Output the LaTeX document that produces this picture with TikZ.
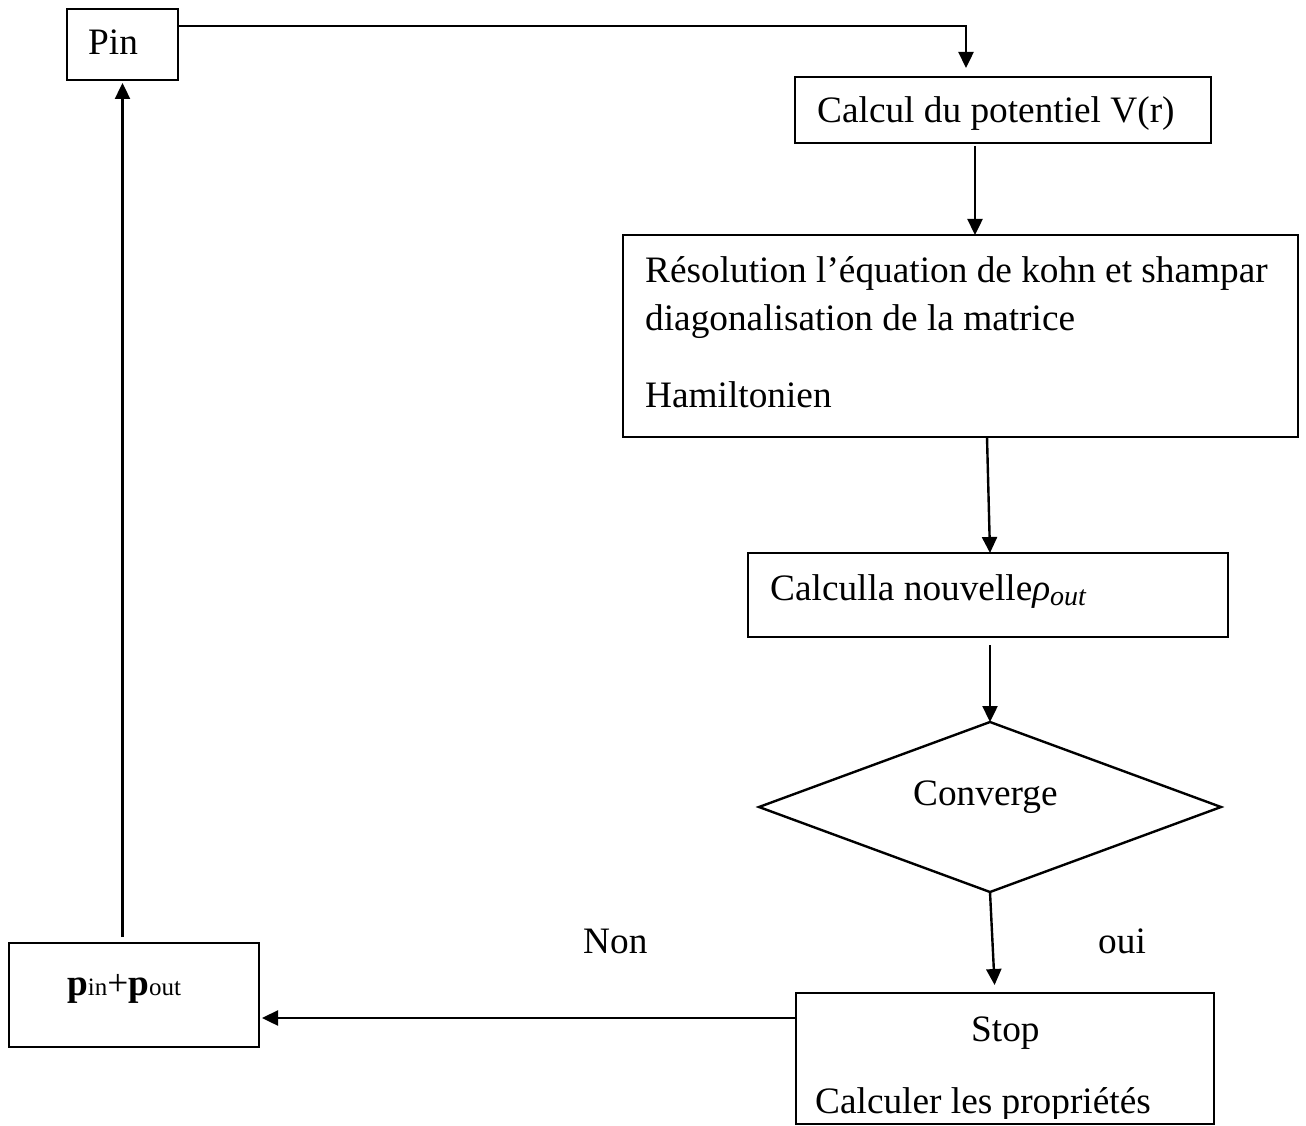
\documentclass[tikz,border=0pt]{standalone}
\usepackage{fontspec}
\setmainfont{Liberation Serif}
\usetikzlibrary{arrows.meta,shapes.geometric}
\newcommand{\bigtxt}{\fontsize{37.3}{44}\selectfont}
\newcommand{\smalltxt}{\fontsize{25}{30}\selectfont}
\begin{document}
\begin{tikzpicture}[x=1pt,y=-1pt,
  box/.style={draw, line width=2.4pt, rectangle, inner sep=0pt, outer sep=0pt},
  decide/.style={draw, line width=2.4pt, diamond, inner sep=0pt, outer sep=0pt},
  lbl/.style={font=\bigtxt, inner sep=0pt, anchor=base west},
  arr/.style={line width=2.4pt, -{Triangle[length=16pt,width=15pt]}}]
\useasboundingbox (0,0) rectangle (1306,1126);
% boxes
\node[box, minimum width=111pt, minimum height=71pt] (pin) at (122.5,44.5) {};
\node[box, minimum width=416pt, minimum height=66pt] (calc) at (1003,110) {};
\node[box, minimum width=675pt, minimum height=202pt] (res) at (960.5,336) {};
\node[box, minimum width=480pt, minimum height=84pt] (rho) at (988,595) {};
\node[decide, minimum width=462pt, minimum height=170pt] (dia) at (990,807) {};
\node[box, minimum width=418pt, minimum height=131pt] (stop) at (1005,1058.5) {};
\node[box, minimum width=250pt, minimum height=104pt] (pbox) at (134,995) {};
% texts
\node[lbl] (tpin) at (88,55) {Pin};
\node[lbl] (tcalc) at (817,123) {Calcul du potentiel V(r)};
\node[lbl] (tres1) at (645,282) {Résolution l’équation de kohn et shampar};
\node[lbl] (tres2) at (645,330) {diagonalisation de la matrice};
\node[lbl] (tres3) at (645,407) {Hamiltonien};
\node[lbl] (trho) at (770,600) {Calculla nouvelle\textit{ρ}\raisebox{-5pt}{\fontsize{28}{30}\selectfont\itshape out}};
\node[lbl] (tconv) at (913,805) {Converge};
\node[lbl] (tnon) at (583,953) {Non};
\node[lbl] (toui) at (1098,953) {oui};
\node[lbl] (tp) at (67,995) {\textbf{p}{\smalltxt in}+\textbf{p}{\smalltxt out}};
\node[lbl] (tstop) at (971,1041) {Stop};
\begin{scope}
\clip (790,990) rectangle (1220,1118);
\node[lbl] (tprop) at (815,1113) {Calculer les propriétés};
\end{scope}
% helper coordinates
\coordinate (c1) at (966,26);
\coordinate (x2) at (975,0);
\coordinate (x3a) at (987,0);
\coordinate (x3b) at (990,0);
\coordinate (x5) at (995,0);
\coordinate (y6) at (0,1018);
% connectors
\draw[arr, shorten >=9pt] (pin.east |- c1) -- (c1) -- (calc.north -| c1);
\draw[arr, shorten <=3pt] (calc.south -| x2) -- (res.north -| x2);
\draw[arr] (res.south -| x3a) -- (rho.north -| x3b);
\draw[arr, shorten <=8pt] (rho.south -| dia.north) -- (dia.north);
\draw[arr, shorten >=8pt] (dia.south) -- (stop.north -| x5);
\draw[arr, shorten >=3pt] (stop.west |- y6) -- (pbox.east |- y6);
\draw[arr, shorten <=6pt, shorten >=3pt] (pbox.north -| pin.south) -- (pin.south);
\end{tikzpicture}
\end{document}
